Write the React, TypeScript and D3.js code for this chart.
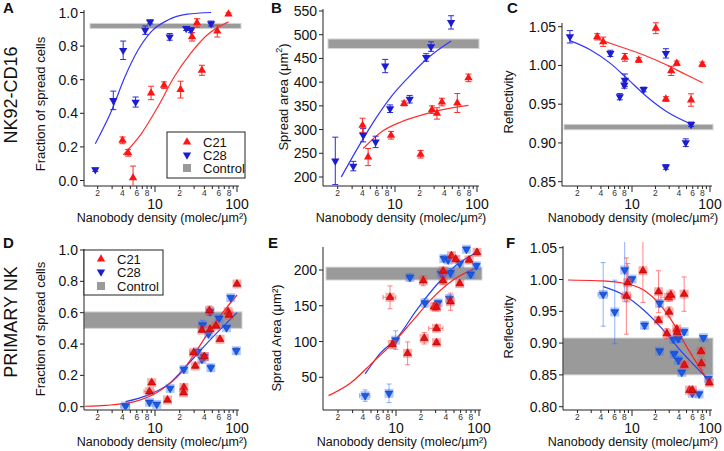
import React from "react";
import * as d3 from "d3";

type P = number[]; // [x, y, yErr, xErr]
type F = [number, number];

// ---------- Panel A : NK92-CD16, fraction of spread cells ----------
const A_C21: P[] = [[4.02,0.239,0.02],[4.7,0.165,0.02],[5.4,0.016,0.07],[8.95,0.521,0.04],[12.9,0.567,0.02],[20.5,0.541,0.05],[28.3,0.855,0.025],[32.5,0.938,0.025],[37.3,0.656,0.03],[57.5,0.889,0.035],[78.7,0.99,0.008]];
const A_C28: P[] = [[1.87,0.064,0.01],[3.1,0.477,0.055],[4.09,0.775,0.055],[5.8,0.467,0.03],[7.59,0.895,0.025],[8.71,0.944,0.012],[15.1,0.855,0.02],[24,0.905,0.012],[27.5,0.895,0.015],[48.3,0.934,0.015]];
const A_C21_fit: F[] = [[4.09,0.153],[6.8,0.278],[10.8,0.437],[17.1,0.616],[27,0.755],[42.9,0.865],[78.7,0.944]];
const A_C28_fit: F[] = [[1.87,0.219],[2.96,0.417],[4.29,0.616],[6.19,0.775],[8.95,0.885],[14.2,0.954],[24.7,0.99],[48.3,1.0]];
const A_control: F = [0.905, 0.935];
const A_yTicks = [0, 0.2, 0.4, 0.6, 0.8, 1.0];

// ---------- Panel B : spread area ----------
const B_C21: P[] = [[4.02,309,15],[4.7,242,18],[8.95,288,8],[12.9,355,5],[20.5,248,8],[28.3,342,8],[32.5,334,12],[37.3,358,8],[57.5,356,20],[78.7,409,8]];
const B_C28: P[] = [[1.87,234,50],[3.1,223,10],[4.09,288,14],[5.8,274,12],[7.59,434,14],[8.71,344,8],[15.1,364,8],[24,452,8],[27.5,475,10],[48.3,526,14]];
const B_C21_fit: F[] = [[4.09,260],[6.8,295],[11.8,316],[20.5,330],[35.6,341],[78.7,351]];
const B_C28_fit: F[] = [[2.21,200],[3.56,263],[5.65,320],[8.95,369],[14.2,408],[24.7,450],[48.3,487]];
const B_control: F = [471, 491];
const B_yTicks = [200, 250, 300, 350, 400, 450, 500, 550];

// ---------- Panel C : reflectivity ----------
const C_C21: P[] = [[3.58,1.037,0.004],[4.27,1.0306,0.006],[8.1,1.0104,0.005],[12.2,1.007,0.003],[20.2,1.048,0.007],[27.2,0.9567,0.003],[31.8,0.993,0.006],[37.5,1.0027,0.003],[57.2,0.9554,0.008],[79.8,1.0014,0.003]];
const C_C28: P[] = [[1.6,1.037,0.008],[5.28,1.0156,0.004],[6.97,0.9597,0.004],[7.98,0.9747,0.004],[8.1,0.981,0.008],[14.1,0.969,0.003],[27.2,1.0156,0.006],[27.2,0.869,0.003],[48.9,0.9003,0.005],[57.2,0.924,0.003]];
const C_C21_fit: F[] = [[3.75,1.0337],[7.1,1.0242],[14.1,1.0134],[28,1.0005],[50.4,0.9876],[80.5,0.9777]];
const C_C28_fit: F[] = [[1.6,1.032],[2.94,1.02],[5.28,1.0027],[8.63,0.9833],[15.5,0.9597],[28,0.9403],[57.2,0.9244]];
const C_control: F = [0.917, 0.924];
const C_yTicks = [0.85, 0.9, 0.95, 1.0, 1.05];

// ---------- Panel D : primary NK, fraction of spread cells ----------
const D_C21: P[] = [[8.55,0.096,0.01,1.2],[9.12,0.153,0.01],[14.2,0.043,0.01],[22.5,0.123,0.015],[22.3,0.089,0.01],[31,0.26,0.015],[29.6,0.345,0.01,3],[37.3,0.489,0.015],[40,0.32,0.015],[47,0.494,0.01],[55.5,0.515,0.01],[62,0.43,0.01],[46.1,0.613,0.03],[78,0.606,0.01],[80,0.585,0.01],[100,0.783,0.01]];
const D_C28: P[] = [[4.37,0.004,0.008,0.55],[8.55,0.028,0.01],[10.5,0.015,0.01],[15.3,0.117,0.012],[22.5,0.238,0.015],[33.1,0.351,0.015],[37.3,0.302,0.02],[39.8,0.319,0.02],[38,0.521,0.03],[44.9,0.464,0.01],[47,0.606,0.02],[47.9,0.249,0.02],[60.3,0.564,0.01],[74.5,0.504,0.01],[83.9,0.696,0.015],[98,0.357,0.02]];
const D_C21_fit: F[] = [[1.4,0.003],[2.5,0.008],[5.65,0.032],[11.8,0.106],[20.5,0.213],[32.5,0.362],[51.5,0.521],[100,0.713]];
const D_C28_fit: F[] = [[4.37,0.032],[8.17,0.074],[15,0.149],[24.7,0.266],[42.9,0.404],[100,0.6]];
const D_control: F = [0.5, 0.605];
const D_yTicks = [0, 0.2, 0.4, 0.6, 0.8, 1.0];

// ---------- Panel E : spread area ----------
const E_C21: P[] = [[8.47,161.8,16,1.5],[9.04,96,5],[13.8,83.5,16],[21.3,185,7],[21.9,104.5,8],[28.8,148.7,5],[30.8,147.8,4],[30.8,118.5,4,6],[30.8,98.4,3],[37,198.6,4],[37,185,5],[45.3,155.7,12],[46.6,220,4],[52.5,215,4],[58.6,181,3],[75.9,214,4],[94.6,224.6,4]];
const E_C28: P[] = [[4.25,24.4,8,0.6],[8.24,27.6,13],[9.9,102,13],[14.7,189.7,5],[22.3,154,6],[32.2,154,4],[35,195,5],[37.7,216,4],[42.5,214,4],[44,160,5],[45.3,196,6],[58.6,209,3],[70.5,229,3],[79.4,194,4],[92.9,206,4]];
const E_C21_fit: F[] = [[1.54,24.4],[2.81,41.6],[5.35,71.9],[9.29,98.4],[16.1,130],[28,161.8],[48.8,186],[94.6,203.7]];
const E_C28_fit: F[] = [[4.25,54.7],[6.43,83.5],[10.2,104.5],[17.7,144],[30.8,179],[53.5,207],[94.6,224.6]];
const E_control: F = [186, 204];
const E_yTicks = [50, 100, 150, 200];

// ---------- Panel F : reflectivity ----------
const F_C21: P[] = [[8.47,0.974,0.06,1.2],[8.8,0.995,0.03],[13.8,1.0138,0.05],[21.9,0.9808,0.033],[21.9,0.936,0.004],[29.4,0.972,0.006,6],[31.5,0.9756,0.008],[29.9,0.949,0.008],[28,0.915,0.008],[37.5,0.922,0.004],[37.9,0.917,0.004],[46.6,0.977,0.027],[46.9,0.8655,0.004],[54.5,0.826,0.003],[59.4,0.826,0.003],[76.8,0.887,0.004],[77.5,0.868,0.01],[98,0.8377,0.004]];
const F_C28: P[] = [[4.27,0.9766,0.05,0.6],[6.01,0.949,0.05],[8.06,1.015,0.05],[10,1.0007,0.004],[14.5,0.928,0.005],[22.6,0.9625,0.005],[22.6,0.8875,0.003],[34,0.906,0.005],[34.7,0.883,0.004],[39.4,0.873,0.006],[39.4,0.907,0.005],[43.4,0.854,0.003],[46.6,0.918,0.004],[59.4,0.821,0.003],[72.4,0.82,0.003],[82.2,0.9085,0.003],[95.3,0.844,0.004]];
const F_C21_fit: F[] = [[1.51,0.9992],[3.57,0.998],[7.1,0.995],[14.1,0.9834],[23,0.96],[34,0.931],[50.4,0.894],[98,0.838]];
const F_C28_fit: F[] = [[4.27,0.9887],[7.83,0.9756],[14.1,0.952],[23,0.926],[41.4,0.889],[98,0.841]];
const F_control: F = [0.85, 0.908];
const F_yTicks = [0.8, 0.85, 0.9, 0.95, 1.0, 1.05];

const legendLabels = ["C21", "C28", "Control"];
const xTitle = "Nanobody density (molec/\u00b5m\u00b2)";
const rowLabels = ["NK92-CD16", "PRIMARY NK"];

const FONT = "'Liberation Sans', Arial, Helvetica, sans-serif";

type Cfg = {
  letter: string; lx: number; ly: number;
  axisX: number; axisY: number; xEnd: number; yTop: number;
  x10: number; x100: number;
  yv: [number, number]; yp: [number, number];
  yTicks: number[]; yFmt: (v: number) => string;
  yTitle: React.ReactNode; ytx: number; yty: number; xtx: number;
  band: F; bandX: [number, number];
  red: P[]; blue: P[]; redFit: F[]; blueFit: F[];
  row: 1 | 2;
  legend?: { x: number; y: number; w: number; h: number; sx: number; tx: number; dy: number[] };
};

const COL = {
  1: { red: "#ff1414", blue: "#1c1cd2", redFit: "#ff3030", blueFit: "#3535ff", redErr: "#ff2a2a", blueErr: "#2a2ad8" },
  2: { red: "#e81010", blue: "#1a58e6", redFit: "#ff2222", blueFit: "#2642f0", redErr: "rgba(255,50,50,0.6)", blueErr: "rgba(50,110,255,0.55)" },
};

function Marker({ cx, cy, down, row }: { cx: number; cy: number; down: boolean; row: 1 | 2 }) {
  const c = COL[row];
  const d = d3.symbol().type(d3.symbolTriangle).size(row === 1 ? 30 : 26)() as string;
  const tr = `translate(${cx},${cy}) rotate(${down ? 180 : 0})`;
  if (row === 1) return <path d={d} transform={tr} fill={down ? c.blue : c.red} />;
  return (
    <g>
      <rect x={cx - 4.5} y={cy - 4.5} width={9} height={9}
        fill={down ? "rgba(60,120,255,0.4)" : "rgba(255,70,70,0.45)"} />
      <path d={d} transform={tr} fill={down ? c.blue : c.red}
        stroke={down ? "#0a3cb0" : "#a00000"} strokeWidth={0.6} />
    </g>
  );
}

function Panel({ c }: { c: Cfg }) {
  const x = d3.scaleLog().domain([10, 100]).range([c.x10, c.x100]);
  const y = d3.scaleLinear().domain(c.yv).range(c.yp);
  const lo = x.invert(c.axisX), hi = x.invert(c.xEnd);
  const xt: { v: number; k: number }[] = [];
  [1, 10, 100].forEach((dec) => {
    for (let k = 1; k <= 9; k++) {
      const v = k * dec;
      if (v >= lo && v <= hi) xt.push({ v, k });
    }
  });
  const col = COL[c.row];
  const line = d3.line<F>().x((d) => x(d[0])).y((d) => y(d[1])).curve(d3.curveMonotoneX);
  const clipId = `clip-${c.letter}`;
  const cap = c.row === 1 ? 3 : 2.5;

  const errBars = (pts: P[], color: string, key: string) =>
    pts.map((p, i) => {
      const cx = x(p[0]), cy = y(p[1]);
      const e = p[2] || 0, xe = p[3] || 0;
      const y1 = y(p[1] - e), y2 = y(p[1] + e);
      return (
        <g key={key + i} stroke={color} strokeWidth={1}>
          {e > 0 && (
            <>
              <line x1={cx} x2={cx} y1={y1} y2={y2} />
              <line x1={cx - cap} x2={cx + cap} y1={y1} y2={y1} />
              <line x1={cx - cap} x2={cx + cap} y1={y2} y2={y2} />
            </>
          )}
          {xe > 0 && (
            <>
              <line x1={x(p[0] - xe)} x2={x(p[0] + xe)} y1={cy} y2={cy} />
              <line x1={x(p[0] - xe)} x2={x(p[0] - xe)} y1={cy - cap} y2={cy + cap} />
              <line x1={x(p[0] + xe)} x2={x(p[0] + xe)} y1={cy - cap} y2={cy + cap} />
            </>
          )}
        </g>
      );
    });

  const by1 = y(c.band[1]), by0 = y(c.band[0]);

  return (
    <g fontFamily={FONT}>
      <defs>
        <clipPath id={clipId}>
          <rect x={c.axisX + 0.5} y={c.yTop - 4} width={c.xEnd - c.axisX + 6} height={c.axisY - c.yTop + 3.5} />
        </clipPath>
      </defs>
      <rect x={c.bandX[0]} y={by1} width={c.bandX[1] - c.bandX[0]} height={by0 - by1}
        fill="#9a9a9a" stroke="#d4d4d4" strokeWidth={1} />
      <g clipPath={`url(#${clipId})`}>
        <path d={line(c.blueFit) as string} fill="none" stroke={col.blueFit} strokeWidth={1.2} />
        <path d={line(c.redFit) as string} fill="none" stroke={col.redFit} strokeWidth={1.2} />
        {errBars(c.blue, col.blueErr, "be")}
        {errBars(c.red, col.redErr, "re")}
        {c.blue.map((p, i) => <Marker key={"b" + i} cx={x(p[0])} cy={y(p[1])} down row={c.row} />)}
        {c.red.map((p, i) => <Marker key={"r" + i} cx={x(p[0])} cy={y(p[1])} down={false} row={c.row} />)}
      </g>
      <g stroke="#222" strokeWidth={1} fill="none">
        <line x1={c.axisX} x2={c.axisX} y1={c.yTop} y2={c.axisY} />
        <line x1={c.axisX} x2={c.xEnd} y1={c.axisY} y2={c.axisY} />
        {c.yTicks.map((t) => (
          <line key={"yt" + t} x1={c.axisX - 4} x2={c.axisX} y1={y(t)} y2={y(t)} />
        ))}
        {xt.map((t) => (
          <line key={"xt" + t.v} x1={x(t.v)} x2={x(t.v)} y1={c.axisY} y2={c.axisY + (t.k === 1 ? 6 : 3)} />
        ))}
      </g>
      <g fill="#111">
        {c.yTicks.map((t) => (
          <text key={"yl" + t} x={c.axisX - 6} y={y(t)} dy="0.36em" textAnchor="end" fontSize={14}>
            {c.yFmt(t)}
          </text>
        ))}
        {xt.filter((t) => t.k === 2 || t.k === 4 || t.k === 6 || t.k === 8).map((t) => (
          <text key={"xm" + t.v} x={x(t.v)} y={c.axisY + 9.5} textAnchor="middle" fontSize={8.5} fill="#333">{t.k}</text>
        ))}
        {xt.filter((t) => t.k === 1).map((t) => (
          <text key={"xM" + t.v} x={x(t.v)} y={c.axisY + 23} textAnchor="middle" fontSize={14}>{t.v}</text>
        ))}
        <text x={c.xtx} y={c.axisY + 35.5} textAnchor="middle" fontSize={12.5}>{xTitle}</text>
        <text transform={`translate(${c.ytx},${c.yty}) rotate(-90)`} textAnchor="middle" fontSize={13}>{c.yTitle}</text>
        <text x={c.lx} y={c.ly} fontSize={15} fontWeight="bold">{c.letter}</text>
      </g>
      {c.legend && (
        <g>
          <rect x={c.legend.x} y={c.legend.y} width={c.legend.w} height={c.legend.h} fill="#fff" stroke="#222" strokeWidth={1} />
          <Marker cx={c.legend.x + c.legend.sx} cy={c.legend.y + c.legend.dy[0]} down={false} row={1} />
          <Marker cx={c.legend.x + c.legend.sx} cy={c.legend.y + c.legend.dy[1]} down row={1} />
          <rect x={c.legend.x + c.legend.sx - 4} y={c.legend.y + c.legend.dy[2] - 4} width={8} height={8} fill="#9a9a9a" />
          {legendLabels.map((l, i) => (
            <text key={l} x={c.legend.x + c.legend.tx} y={c.legend.y + c.legend.dy[i]} dy="0.36em" fontSize={13} fill="#111">{l}</text>
          ))}
        </g>
      )}
    </g>
  );
}

const f1 = d3.format(".1f"), f2 = d3.format(".2f"), fd = d3.format("d");

const panels: Cfg[] = [
  { letter: "A", lx: 3, ly: 13, axisX: 84, axisY: 186, xEnd: 239, yTop: 10, x10: 155, x100: 237,
    yv: [0, 1], yp: [180.5, 12.5], yTicks: A_yTicks, yFmt: f1,
    yTitle: "Fraction of spread cells", ytx: 45, yty: 104, xtx: 162,
    band: A_control, bandX: [90, 241], red: A_C21, blue: A_C28, redFit: A_C21_fit, blueFit: A_C28_fit, row: 1,
    legend: { x: 167, y: 132, w: 78, h: 46, sx: 20, tx: 36, dy: [10, 23, 36] } },
  { letter: "B", lx: 271, ly: 13, axisX: 323, axisY: 186, xEnd: 479, yTop: 9, x10: 395, x100: 477,
    yv: [200, 550], yp: [177, 11], yTicks: B_yTicks, yFmt: fd,
    yTitle: (<>Spread area (μm<tspan dy={-6} fontSize={9}>2</tspan><tspan dy={6}>)</tspan></>), ytx: 288, yty: 97, xtx: 401,
    band: B_control, bandX: [328, 479], red: B_C21, blue: B_C28, redFit: B_C21_fit, blueFit: B_C28_fit, row: 1 },
  { letter: "C", lx: 507, ly: 13, axisX: 562, axisY: 186, xEnd: 712, yTop: 23, x10: 632, x100: 710,
    yv: [0.85, 1.05], yp: [181.7, 26.7], yTicks: C_yTicks, yFmt: f2,
    yTitle: "Reflectivity", ytx: 513, yty: 102, xtx: 633,
    band: C_control, bandX: [564, 713], red: C_C21, blue: C_C28, redFit: C_C21_fit, blueFit: C_C28_fit, row: 1 },
  { letter: "D", lx: 3, ly: 248, axisX: 84, axisY: 410, xEnd: 239, yTop: 249, x10: 155, x100: 237,
    yv: [0, 1], yp: [406.7, 250], yTicks: D_yTicks, yFmt: f1,
    yTitle: "Fraction of spread cells", ytx: 45, yty: 329, xtx: 162,
    band: D_control, bandX: [84, 242], red: D_C21, blue: D_C28, redFit: D_C21_fit, blueFit: D_C28_fit, row: 2,
    legend: { x: 84, y: 250, w: 79, h: 45, sx: 17, tx: 33, dy: [9, 22, 36] } },
  { letter: "E", lx: 268, ly: 248, axisX: 323, axisY: 410, xEnd: 481, yTop: 247, x10: 396, x100: 479,
    yv: [50, 200], yp: [377.3, 270], yTicks: E_yTicks, yFmt: fd,
    yTitle: "Spread Area (μm²)", ytx: 281, yty: 338, xtx: 402,
    band: E_control, bandX: [326, 482], red: E_C21, blue: E_C28, redFit: E_C21_fit, blueFit: E_C28_fit, row: 2 },
  { letter: "F", lx: 506, ly: 248, axisX: 563, axisY: 410, xEnd: 712, yTop: 246, x10: 632, x100: 710,
    yv: [0.8, 1.05], yp: [406.7, 247.7], yTicks: F_yTicks, yFmt: f2,
    yTitle: "Reflectivity", ytx: 513, yty: 327, xtx: 633,
    band: F_control, bandX: [563, 713], red: F_C21, blue: F_C28, redFit: F_C21_fit, blueFit: F_C28_fit, row: 2 },
];

export default function App() {
  return (
    <svg width={724} height={451} viewBox="0 0 724 451"
      style={{ position: "absolute", left: 0, top: 0, background: "#fff" }}>
      <rect width={724} height={451} fill="#fff" />
      <g fontFamily={FONT} fill="#111" fontSize={18}>
        <text transform="translate(17,95) rotate(-90)" textAnchor="middle">{rowLabels[0]}</text>
        <text transform="translate(17,322) rotate(-90)" textAnchor="middle">{rowLabels[1]}</text>
      </g>
      {panels.map((c) => <Panel key={c.letter} c={c} />)}
    </svg>
  );
}
